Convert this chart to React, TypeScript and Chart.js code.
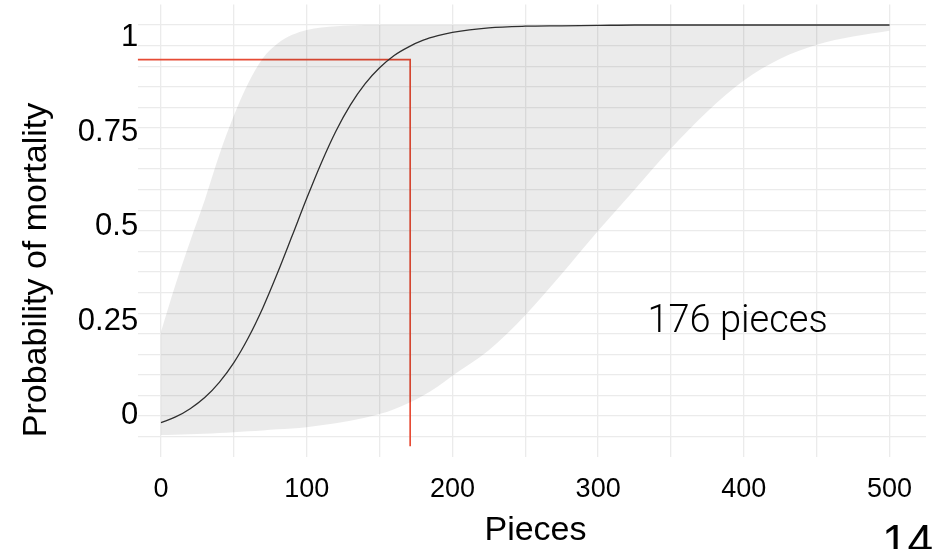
import React, { useEffect, useRef } from "react";
import { Chart, registerables } from "chart.js";

Chart.register(...registerables);

// ---- data ----
const pieces = [0, 10, 20, 30, 40, 50, 60, 70, 80, 90, 100, 110, 120, 130, 140, 150, 160, 170, 180, 190, 200, 225, 250, 275, 300, 325, 350, 375, 400, 425, 450, 475, 500];
const meanProb = [0.034, 0.048, 0.068, 0.095, 0.132, 0.18, 0.241, 0.314, 0.398, 0.488, 0.579, 0.665, 0.742, 0.806, 0.857, 0.896, 0.926, 0.947, 0.963, 0.974, 0.982, 0.993, 0.997, 0.998, 0.999, 1.0, 1.0, 1.0, 1.0, 1.0, 1.0, 1.0, 1.0];
const lowerProb = [0.004, 0.005, 0.006, 0.007, 0.009, 0.011, 0.013, 0.015, 0.018, 0.02, 0.023, 0.028, 0.033, 0.039, 0.046, 0.055, 0.067, 0.082, 0.1, 0.122, 0.148, 0.21, 0.295, 0.395, 0.5, 0.6, 0.7, 0.79, 0.865, 0.918, 0.952, 0.972, 0.986];
const upperProb = [0.255, 0.37, 0.475, 0.575, 0.685, 0.78, 0.86, 0.92, 0.955, 0.976, 0.988, 0.994, 0.997, 0.999, 1.0, 1.0, 1.0, 1.0, 1.0, 1.0, 1.0, 1.0, 1.0, 1.0, 1.0, 1.0, 1.0, 1.0, 1.0, 1.0, 1.0, 1.0, 1.0];

const thresholdPieces = 171;
const thresholdProb = 0.916;
const thresholdBottom = -0.023;

const xMin = -16;
const xMax = 525;
const yMin = -0.05;
const yMax = 1.05;

const xGridValues = [0, 50, 100, 150, 200, 250, 300, 350, 400, 450, 500];
const yGridValues = [0, 0.05, 0.1, 0.15, 0.2, 0.25, 0.3, 0.35, 0.4, 0.45, 0.5, 0.55, 0.6, 0.65, 0.7, 0.75, 0.8, 0.85, 0.9, 0.95, 1.0];
const xTickValues = [0, 100, 200, 300, 400, 500];
const yTickValues = [0, 0.25, 0.5, 0.75, 1];
const yTickLabels = ["0", "0.25", "0.5", "0.75", "1"];
// scale on which the printed y labels sit in the reference
const yLabelMin = -0.1163;
const yLabelMax = 1.0813;

const xTitle = "Pieces";
const yTitle = "Probability of mortality";
const annotationText = "176 pieces";
const annotationX = 333.8;
const annotationY = 0.255;
const pageNumber = "14";

const SANS = '"Liberation Sans", Arial, Helvetica, sans-serif';

export default function App() {
  const canvasRef = useRef<HTMLCanvasElement>(null);

  useEffect(() => {
    document.body.style.margin = "0";
    const canvas = canvasRef.current;
    if (!canvas) return;

    const textPlugin = {
      id: "textPlugin",
      afterDraw(chart: any) {
        const { ctx, chartArea, scales } = chart;
        const xs = scales.x;
        const ys = scales.y;
        const yl = scales.yLabel;
        ctx.save();
        ctx.fillStyle = "#000000";
        ctx.textBaseline = "alphabetic";

        ctx.font = `27px ${SANS}`;
        ctx.textAlign = "center";
        xTickValues.forEach((v) => {
          ctx.fillText(String(v), xs.getPixelForValue(v), chartArea.bottom + 39.4);
        });

        ctx.font = `31px ${SANS}`;
        ctx.textAlign = "right";
        yTickValues.forEach((v, i) => {
          ctx.fillText(yTickLabels[i], chartArea.left + 0.5, yl.getPixelForValue(v) + 0.358 * 31);
        });

        ctx.font = `34px ${SANS}`;
        ctx.textAlign = "center";
        ctx.fillText(xTitle, 535.5, 540);

        ctx.save();
        ctx.translate(46, 270);
        ctx.rotate(-Math.PI / 2);
        ctx.fillText(yTitle, 0, 0);
        ctx.restore();

        ctx.font = `300 38px Roboto, "Noto Sans", sans-serif`;
        ctx.textAlign = "left";
        ctx.fillText(annotationText, xs.getPixelForValue(annotationX), ys.getPixelForValue(annotationY));

        ctx.font = `46px ${SANS}`;
        ctx.fillText(pageNumber, 882, 557);
        ctx.restore();
      },
    };

    const toPts = (ys: number[]) => pieces.map((x, i) => ({ x, y: ys[i] }));

    const chart = new Chart(canvas, {
      type: "line",
      data: {
        datasets: [
          {
            label: "lower",
            data: toPts(lowerProb),
            borderWidth: 0,
            borderColor: "rgba(0,0,0,0)",
            pointRadius: 0,
            cubicInterpolationMode: "monotone",
            fill: false,
          },
          {
            label: "upper",
            data: toPts(upperProb),
            borderWidth: 0,
            borderColor: "rgba(0,0,0,0)",
            backgroundColor: "rgba(0,0,0,0.08)",
            pointRadius: 0,
            cubicInterpolationMode: "monotone",
            fill: "-1",
          },
          {
            label: "mean",
            data: toPts(meanProb),
            borderWidth: 1.3,
            borderColor: "#333333",
            pointRadius: 0,
            cubicInterpolationMode: "monotone",
            fill: false,
          },
          {
            label: "threshold",
            data: [
              { x: xMin, y: thresholdProb },
              { x: thresholdPieces, y: thresholdProb },
              { x: thresholdPieces, y: thresholdBottom },
            ],
            borderWidth: 1.7,
            borderColor: "#E64B35",
            pointRadius: 0,
            tension: 0,
            fill: false,
          },
        ],
      },
      options: {
        animation: false,
        responsive: false,
        devicePixelRatio: 1,
        layout: { padding: { left: 137.7, right: 17, top: 4.4, bottom: 91.7 } },
        plugins: { legend: { display: false }, tooltip: { enabled: false } },
        scales: {
          x: {
            type: "linear",
            min: xMin,
            max: xMax,
            afterBuildTicks: (s: any) => {
              s.ticks = xGridValues.map((value) => ({ value }));
            },
            ticks: { display: false },
            border: { display: false },
            grid: { color: "#ebebeb", lineWidth: 1.3, drawTicks: false },
          },
          y: {
            type: "linear",
            min: yMin,
            max: yMax,
            afterBuildTicks: (s: any) => {
              s.ticks = yGridValues.map((value) => ({ value }));
            },
            ticks: { display: false },
            border: { display: false },
            grid: { color: "#ebebeb", lineWidth: 1.3, drawTicks: false },
          },
          yLabel: {
            type: "linear",
            position: "left",
            display: false,
            min: yLabelMin,
            max: yLabelMax,
          },
        },
      },
      plugins: [textPlugin],
    } as any);

    return () => chart.destroy();
  }, []);

  return (
    <div style={{ width: 943, height: 549, position: "relative", background: "#ffffff" }}>
      <canvas ref={canvasRef} width={943} height={549} style={{ display: "block" }} />
    </div>
  );
}
